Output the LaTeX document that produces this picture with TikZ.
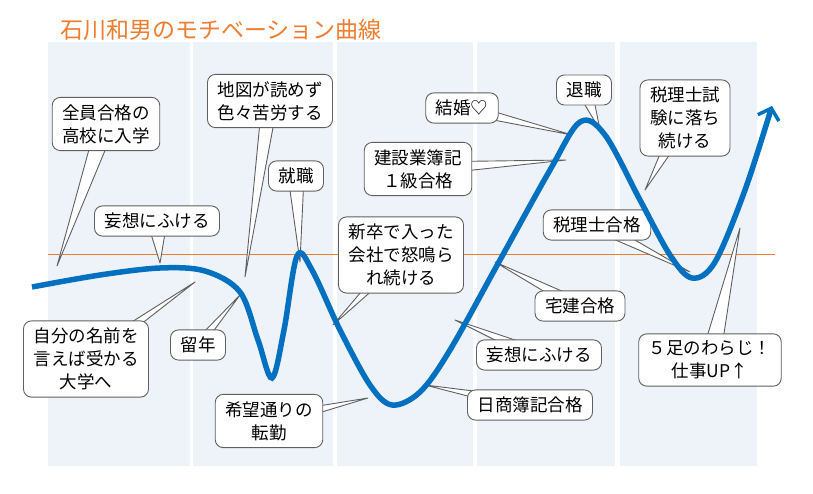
\documentclass[tikz,border=0pt]{standalone}
\usepackage{fontspec}
\setmainfont{Noto Sans CJK JP}
\usetikzlibrary{calc,arrows.meta}
\definecolor{band}{HTML}{EEF3FA}
\definecolor{org}{HTML}{ED7D31}
\definecolor{cblue}{HTML}{0070C0}
\tikzset{
 cbox/.style={draw=gray!75!black,fill=white,rounded corners=8pt,line width=0.9pt,align=center,inner xsep=10pt,inner ysep=7pt,font=\fontsize{17.5}{23}\selectfont},
 cptr/.style={draw=gray!75!black,fill=white,line width=0.9pt,line join=round}
}
\newcommand\callout[5]{%
 \coordinate (#1c) at #2;
 \filldraw[cptr] ($(#1c)+#4$) -- #3 -- ($(#1c)-#4$) -- cycle;
 \node[cbox] (#1) at (#1c) {#5};}
\begin{document}
\begin{tikzpicture}[x=1pt,y=-1pt]
\useasboundingbox (0,0) rectangle (813,494);
\foreach \a/\b in {48/190,193/333,337/473,477/615,620/757}
  \fill[band] (\a,42) rectangle (\b,466);
\node[anchor=west,text=org,font=\fontsize{23}{26}\selectfont,inner sep=0pt] (title) at (60,30) {石川和男のモチベーション曲線};
\coordinate (ls) at (48,254); \coordinate (le) at (775,254);
\draw[org,line width=0.8pt] (ls) -- (le);
% tips
\coordinate (t1) at (57,266);
\coordinate (t2) at (160,263);
\coordinate (t3) at (245,277);
\coordinate (t4) at (300,262);
\coordinate (t5) at (333,325);
\coordinate (t6) at (572,135);
\coordinate (t7) at (600,130);
\coordinate (t8) at (566,160);
\coordinate (t9) at (645,190);
\coordinate (t10) at (690,272);
\coordinate (t11) at (495,262);
\coordinate (t12) at (455,320);
\coordinate (t13) at (425,385);
\coordinate (t14) at (368,398);
\coordinate (t15) at (240,295);
\coordinate (t16) at (195,282);
\coordinate (t17) at (740,228);
\callout{c1}{(106,124)}{(t1)}{(10,0)}{全員合格の\\高校に入学}
\callout{c2}{(157,221)}{(t2)}{(10,0)}{妄想にふける}
\callout{c3}{(270,101)}{(t3)}{(8,0)}{地図が読めず\\色々苦労する}
\callout{c4}{(296,176)}{(t4)}{(8,0)}{就職}
\callout{c5}{(401,255)}{(t5)}{(0,10)}{新卒で入った\\会社で怒鳴ら\\れ続ける}
\callout{c6}{(462,108)}{(t6)}{(0,6)}{結婚♡}
\callout{c7}{(584,90)}{(t7)}{(8,0)}{退職}
\callout{c8}{(418,169)}{(t8)}{(0,7)}{建設業簿記\\１級合格}
\callout{c9}{(685,118)}{(t9)}{(10,0)}{税理士試\\験に落ち\\続ける}
\callout{c10}{(597,225)}{(t10)}{(0,7)}{税理士合格}
\callout{c11}{(580,306)}{(t11)}{(0,7)}{宅建合格}
\callout{c12}{(539,355)}{(t12)}{(0,7)}{妄想にふける}
\callout{c13}{(530,405)}{(t13)}{(0,7)}{日商簿記合格}
\callout{c14}{(269,421)}{(t14)}{(0,7)}{希望通りの\\転勤}
\callout{c15}{(198,345)}{(t15)}{(0,7)}{留年}
\callout{c16}{(86,359)}{(t16)}{(0,8)}{自分の名前を\\言えば受かる\\大学へ}
\callout{c17}{(710,360)}{(t17)}{(10,0)}{５足のわらじ！\\仕事UP↑}
% curve
\draw[cblue,line width=5.5pt,-{Straight Barb[length=10pt,width=22pt,line width=3.5pt]}]
 plot[smooth,tension=0.55] coordinates {(32,287) (100,275) (160,268) (205,271) (240,292) (258,340) (272,378) (284,330) (297,256) (312,270) (340,330) (370,385) (392,405) (420,392) (450,350) (500,260) (550,170) (580,122) (605,135) (640,200) (670,255) (692,278) (715,262) (745,190) (772,106)};
\end{tikzpicture}
\end{document}
